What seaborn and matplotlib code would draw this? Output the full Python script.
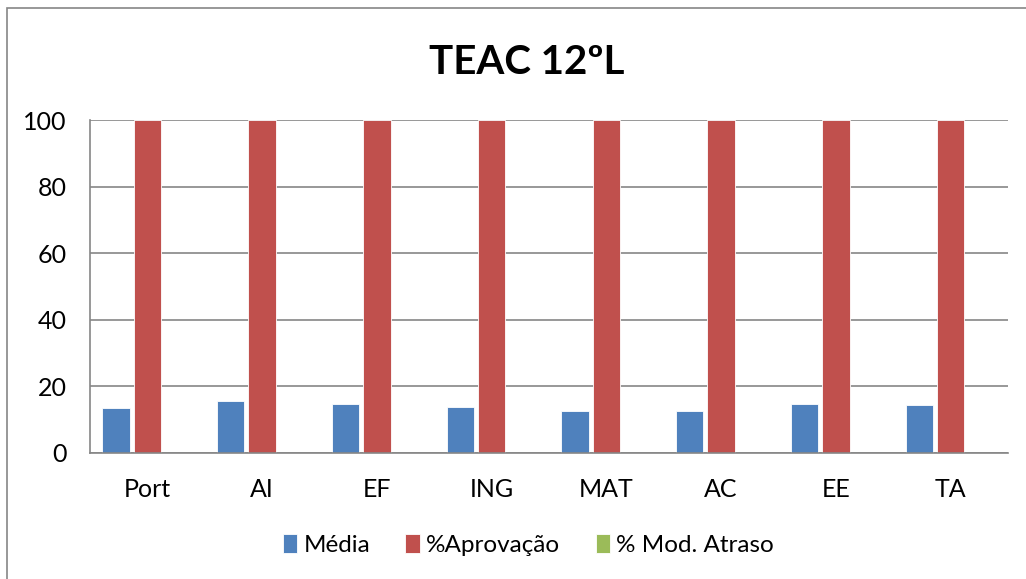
import matplotlib.pyplot as plt
import matplotlib.patches as mpatches
import pandas as pd
import seaborn as sns

disciplinas = ["Port", "AI", "EF", "ING", "MAT", "AC", "EE", "TA"]
media = [13.5, 15.6, 14.5, 13.6, 12.6, 12.6, 14.6, 14.2]
aprovacao = [100, 100, 100, 100, 100, 100, 100, 100]
mod_atraso = [0, 0, 0, 0, 0, 0, 0, 0]
series = ["Média", "%Aprovação", "% Mod. Atraso"]
cores = ["#4F81BD", "#C0504D", "#9BBB59"]

df = pd.DataFrame({
    "disc": disciplinas * 3,
    "valor": media + aprovacao + mod_atraso,
    "serie": [s for s in series for _ in disciplinas],
})

sns.set_style("white")
plt.rcParams["font.family"] = ["Lato", "DejaVu Sans"]
plt.rcParams["text.color"] = "black"

fig = plt.figure(figsize=(10.26, 5.79), dpi=100)
ax = fig.add_axes([90/1026, 1-452.7/579, (1008-90)/1026, (452.7-120)/579])

sns.barplot(data=df, x="disc", y="valor", hue="serie", order=disciplinas,
            hue_order=series, palette=cores, width=0.82, gap=0.13,
            saturation=1, edgecolor="white", linewidth=0.6, ax=ax)

ax.set_ylim(0, 100)
ax.set_xlim(-0.5, len(disciplinas)-0.5)
ax.set_yticks(range(0, 101, 20))
ax.yaxis.grid(True, color="#868686", linewidth=1.2)
ax.set_axisbelow(True)
ax.set_xlabel("")
ax.set_ylabel("")
for s in ["top", "right"]:
    ax.spines[s].set_visible(False)
for s in ["left", "bottom"]:
    ax.spines[s].set_color("#868686")
    ax.spines[s].set_linewidth(1.2)
ax.tick_params(axis="y", length=0, pad=17, labelsize=18, labelcolor="black")
ax.tick_params(axis="x", length=0, pad=18, labelsize=18, labelcolor="black")

handles, labels = ax.get_legend_handles_labels()
ax.legend_.remove()
fig.legend(handles, labels, ncol=3, loc="center", bbox_to_anchor=(0.515, 0.059),
           frameon=False, fontsize=17.5, handlelength=0.6, handleheight=0.85,
           handletextpad=0.25, columnspacing=1.45)

fig.text(0.513, 1-62/579, "TEAC 12ºL", ha="center", va="center",
         fontsize=29, fontweight="bold")

# moldura do gráfico
fig.patches.append(mpatches.Rectangle((7/1026, -0.1), 1.2, (579-8)/579+0.1,
                                      transform=fig.transFigure, fill=False,
                                      edgecolor="#868686", linewidth=1.2))

fig.savefig("out.png", dpi=100)
